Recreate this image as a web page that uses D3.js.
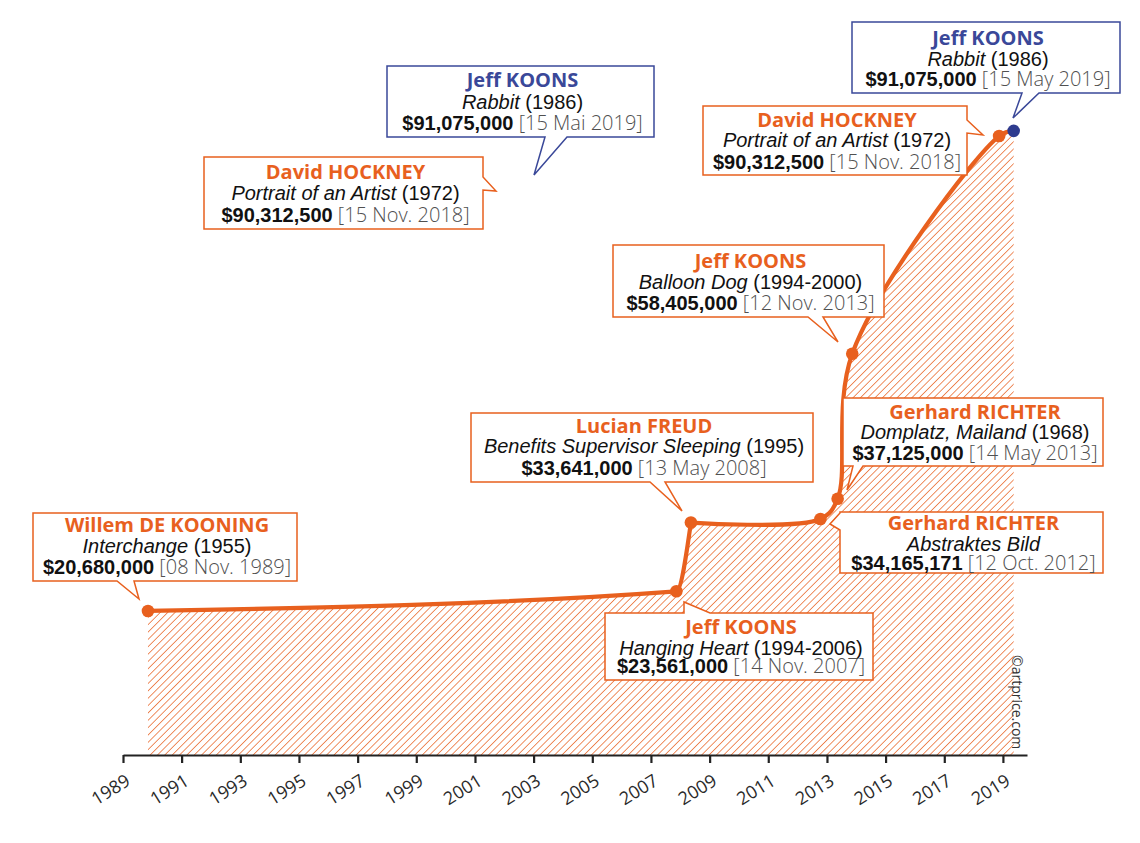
<!DOCTYPE html>
<html>
<head>
<meta charset="utf-8">
<script src="https://cdn.jsdelivr.net/npm/d3@7"></script>
<style>
  html, body { margin: 0; padding: 0; background: #fff; }
  svg { display: block; }
</style>
</head>
<body>
<svg id="chart" width="1140" height="843"></svg>
<script>
// ---------- DATA ----------
const artists = ["Willem DE KOONING", "Jeff KOONS", "Lucian FREUD", "Gerhard RICHTER", "Gerhard RICHTER", "Jeff KOONS", "David HOCKNEY", "Jeff KOONS"];
const works = ["Interchange", "Hanging Heart", "Benefits Supervisor Sleeping", "Abstraktes Bild", "Domplatz, Mailand", "Balloon Dog", "Portrait of an Artist", "Rabbit"];
const workYears = ["(1955)", "(1994-2006)", "(1995)", "", "(1968)", "(1994-2000)", "(1972)", "(1986)"];
const prices = [20680000, 23561000, 33641000, 34165171, 37125000, 58405000, 90312500, 91075000];
const saleDates = ["1989-11-08", "2007-11-14", "2008-05-13", "2012-10-12", "2013-05-14", "2013-11-12", "2018-11-15", "2019-05-15"];
const dateLabels = ["08 Nov. 1989", "14 Nov. 2007", "13 May 2008", "12 Oct. 2012", "14 May 2013", "12 Nov. 2013", "15 Nov. 2018", "15 May 2019"];
const tickYears = [1989, 1991, 1993, 1995, 1997, 1999, 2001, 2003, 2005, 2007, 2009, 2011, 2013, 2015, 2017, 2019];

// ---------- STYLE / LAYOUT ----------
const ORANGE = "#e8601e";
const BLUE = "#3a4899";
const BLUE_DOT = "#2e3b8e";
const axisY = 755;

// callout layout: which record, box [x,y,w,h], tail side, tail base, tail tip, line centre offsets
const callouts = [
  { i: 0, box: [33, 513, 264, 68], side: "bottom", base: [117, 134], tip: [139, 599], off: [12, 33, 54] },
  { i: 1, box: [605, 613, 268, 67], side: "top", base: [684, 710], tip: [684, 602], off: [14, 35, 53] },
  { i: 2, box: [471, 413, 342, 69], side: "bottom", base: [650, 665], tip: [682, 511], off: [13, 33, 55] },
  { i: 3, box: [840, 512, 263, 61], side: "left", base: [513, 530], tip: [830, 524], off: [11, 32, 51] },
  { i: 4, box: [843, 398, 260, 68], side: "bottom", base: [853, 863], tip: [847, 490], off: [14, 34, 55] },
  { i: 5, box: [613, 245, 271, 72], side: "bottom", base: [808, 823], tip: [838, 342], off: [16, 37, 58] },
  { i: 6, box: [703, 106, 264, 69], side: "right", base: [120, 133], tip: [983, 135], off: [14, 34, 56] },
  { i: 7, box: [852, 22, 268, 71], side: "bottom", base: [1022, 1039], tip: [1013, 118], blue: true, off: [16, 37, 57] },
  { i: 7, box: [387, 66, 267, 71], side: "bottom", base: [545, 567], tip: [534, 175], blue: true, dateText: "15 Mai 2019", off: [14, 36, 57] },
  { i: 6, box: [204, 157, 279, 72], side: "right", base: [177, 190], tip: [496, 191], off: [15, 36, 58] }
];

const svg = d3.select("#chart");

const parse = d3.timeParse("%Y-%m-%d");
const records = prices.map((p, k) => ({ date: parse(saleDates[k]), price: p }));

const x = d3.scaleTime()
  .domain([new Date(1989, 0, 1), new Date(2019, 9, 28)])
  .range([123, 1027]);
const y = d3.scaleLinear().domain([0, 100000000]).range([752, 70]);

// hatch pattern
const defs = svg.append("defs");
const pat = defs.append("pattern")
  .attr("id", "hatch")
  .attr("patternUnits", "userSpaceOnUse")
  .attr("width", 5.2).attr("height", 5.2)
  .attr("patternTransform", "rotate(45)");
pat.append("line")
  .attr("x1", 0).attr("y1", -1).attr("x2", 0).attr("y2", 7)
  .attr("stroke", ORANGE).attr("stroke-width", 1.4);

// lower part of the series uses a monotone curve, upper part a Catmull-Rom spline
const splitAt = 2;
const lineLow = d3.line().x(d => x(d.date)).y(d => y(d.price)).curve(d3.curveMonotoneX);
const lineHigh = d3.line().x(d => x(d.date)).y(d => y(d.price)).curve(d3.curveCatmullRom.alpha(0.5));
const lowPts = records.slice(0, splitAt + 1);
const highPts = records.slice(splitAt);
const linePath = lineLow(lowPts) + lineHigh(highPts).replace(/^M[^CLZ]*/, "");

const first = records[0], last = records[records.length - 1];
const areaPath = linePath +
  "L" + x(last.date) + "," + axisY +
  "L" + x(first.date) + "," + axisY + "Z";

svg.append("path")
  .attr("d", areaPath)
  .attr("fill", "url(#hatch)");

// axis
const xAxis = d3.axisBottom(x)
  .tickValues(tickYears.map(yy => new Date(yy, 0, 1)))
  .tickFormat(d3.timeFormat("%Y"))
  .tickSizeInner(8)
  .tickSizeOuter(0);

const gx = svg.append("g")
  .attr("transform", `translate(0,${axisY})`)
  .call(xAxis);
gx.select(".domain").attr("stroke", "#222").attr("stroke-width", 2.2);
gx.selectAll(".tick line").attr("stroke", "#222").attr("stroke-width", 2.2);
gx.selectAll(".tick text")
  .attr("x", 0).attr("y", 0).attr("dy", null)
  .attr("text-anchor", "end")
  .attr("transform", "translate(8,29) rotate(-32)")
  .attr("fill", "#2a2a2a")
  .style("font-family", "'Open Sans', sans-serif")
  .style("font-size", "18px");

// line
svg.append("path")
  .attr("d", linePath)
  .attr("fill", "none")
  .attr("stroke", ORANGE)
  .attr("stroke-width", 4.2)
  .attr("stroke-linejoin", "round");

// dots
svg.selectAll("circle.pt")
  .data(records)
  .join("circle")
  .attr("class", "pt")
  .attr("cx", d => x(d.date))
  .attr("cy", d => y(d.price))
  .attr("r", 6.3)
  .attr("fill", (d, k) => k === records.length - 1 ? BLUE_DOT : ORANGE);

// watermark
svg.append("text")
  .attr("transform", "translate(1012,655) rotate(90)")
  .attr("fill", "#333")
  .style("font-family", "'Open Sans', sans-serif")
  .style("font-size", "14px")
  .text("©artprice.com");

// callouts
function calloutPath(c) {
  const [bx, by, bw, bh] = c.box;
  const r = bx + bw, b = by + bh;
  const [a1, a2] = c.base;
  const [tx, ty] = c.tip;
  let pts;
  if (c.side === "bottom") {
    pts = [[bx, by], [r, by], [r, b], [a2, b], [tx, ty], [a1, b], [bx, b]];
  } else if (c.side === "top") {
    pts = [[bx, by], [a1, by], [tx, ty], [a2, by], [r, by], [r, b], [bx, b]];
  } else if (c.side === "right") {
    pts = [[bx, by], [r, by], [r, a1], [tx, ty], [r, a2], [r, b], [bx, b]];
  } else {
    pts = [[bx, by], [r, by], [r, b], [bx, b], [bx, a2], [tx, ty], [bx, a1]];
  }
  return "M" + pts.map(p => p.join(",")).join("L") + "Z";
}

const priceFmt = d3.format("$,");
const FS = 20;

callouts.forEach(c => {
  const k = c.i;
  const col = c.blue ? BLUE : ORANGE;
  const g = svg.append("g");
  g.append("path")
    .attr("d", calloutPath(c))
    .attr("fill", "#fff")
    .attr("stroke", col)
    .attr("stroke-width", 1.5)
    .attr("stroke-linejoin", "miter");
  const cx = c.box[0] + c.box[2] / 2 + 2;
  const off = c.off;
  const top = c.box[1];

  g.append("text")
    .attr("x", cx).attr("y", top + off[0] + 7)
    .attr("text-anchor", "middle")
    .attr("fill", col)
    .style("font-family", "'Open Sans', sans-serif")
    .style("font-weight", "700")
    .style("font-size", FS + "px")
    .text(artists[k]);

  const t2 = g.append("text")
    .attr("x", cx).attr("y", top + off[1] + 7)
    .attr("text-anchor", "middle")
    .attr("fill", "#111")
    .style("font-family", "'Liberation Sans', Arial, sans-serif")
    .style("font-size", FS + "px");
  t2.append("tspan").style("font-style", "italic").text(works[k]);
  if (workYears[k]) t2.append("tspan").text(" " + workYears[k]);

  const t3 = g.append("text")
    .attr("x", cx).attr("y", top + off[2] + 7)
    .attr("text-anchor", "middle")
    .style("font-size", FS + "px");
  t3.append("tspan")
    .attr("fill", "#111")
    .style("font-family", "'Liberation Sans', Arial, sans-serif")
    .style("font-weight", "700")
    .text(priceFmt(prices[k]));
  t3.append("tspan")
    .attr("fill", "#505050")
    .style("font-family", "'Open Sans', sans-serif")
    .style("font-weight", "300")
    .text(" [" + (c.dateText || dateLabels[k]) + "]");
});
</script>
</body>
</html>
